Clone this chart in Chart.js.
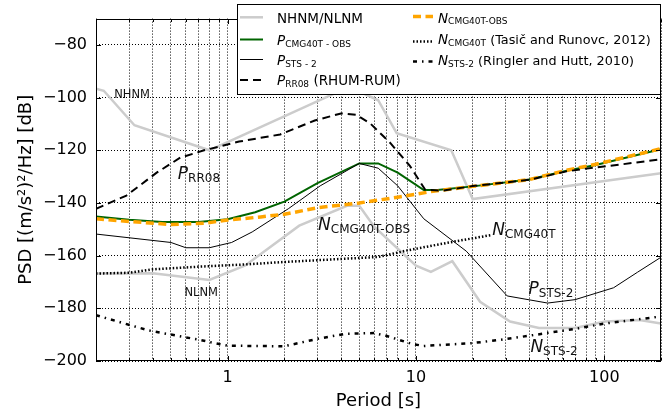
<!DOCTYPE html>
<html><head><meta charset="utf-8">
<script src="https://cdn.jsdelivr.net/npm/chart.js@4"></script>
<style>html,body{margin:0;padding:0;background:#fff;}#wrap{width:671px;height:418px;}</style>
</head><body><div id="wrap"><canvas id="c" width="671" height="418"></canvas></div>
<script>
// ---- data (period [s], PSD [dB]) ----
const periodsNHNM = [0.2, 0.22, 0.32, 0.8, 3.8, 4.6, 6.3, 7.9, 15.4, 20, 200];
const psdNHNM     = [-96.6, -97.4, -110.5, -120, -98, -96.5, -101, -113.5, -120, -138.5, -128.7];
const periodsNLNM = [0.2, 0.4, 0.8, 1.24, 2.4, 4.3, 5, 6, 10, 12, 15.6, 21.9, 31.6, 45, 70, 101, 154, 200];
const psdNLNM     = [-166.8, -166.7, -169.2, -163.7, -148.6, -141.1, -141.1, -149, -163.8, -166.2, -162.1, -177.5, -185, -187.5, -187.5, -185, -184.4, -185.8];
const periodsPCMGOBS = [0.2, 0.3, 0.45, 0.7, 1.0, 1.4, 2.0, 3.0, 5.0, 6.3, 8.0, 11, 13, 20, 40, 63, 90, 200];
const psdPCMGOBS     = [-145.1, -146.4, -147.2, -147.2, -146.2, -143.5, -139.5, -132.5, -125, -125, -128.5, -135.1, -135.1, -133.7, -131.1, -127.8, -125.6, -119.6];
const periodsPSTS2 = [0.2, 0.5, 0.6, 0.8, 1.05, 1.35, 2.1, 3.1, 5.0, 6.3, 8.0, 11, 18.5, 30.5, 50, 70, 112, 150, 200];
const psdPSTS2     = [-151.8, -155, -157, -157, -155, -151, -142.2, -133.5, -125, -126.8, -133.5, -146, -158.3, -175.3, -178, -176.7, -172.2, -166.3, -160.6];
const periodsPRR08 = [0.2, 0.29, 0.42, 0.56, 0.75, 1.15, 1.9, 2.9, 4.0, 4.8, 5.7, 7.3, 9.3, 11.2, 14, 20, 40, 63, 90, 125, 200];
const psdPRR08     = [-142.2, -137.2, -128.5, -122.8, -120, -116.7, -114, -108.7, -106, -106.5, -109.7, -117.2, -126, -135, -135.3, -133.6, -131.2, -128, -126.5, -125.3, -123.4];
const periodsNCMGOBS = [0.2, 0.3, 0.5, 0.75, 1.0, 1.5, 2.0, 3.0, 5.0, 8.0, 12, 20, 40, 63, 90, 200];
const psdNCMGOBS     = [-146, -147, -148.2, -147.7, -146.5, -145.3, -144.3, -141.8, -140, -137.8, -135.7, -133.7, -131.1, -127.6, -125.3, -119.4];
const periodsNCMG = [0.2, 0.3, 0.4, 0.7, 1.2, 2.0, 6.3, 9.0, 15, 25];
const psdNCMG     = [-166.8, -166.5, -165.2, -164.2, -163.4, -162.4, -160.5, -158, -155, -152.2];
const periodsNSTS2 = [0.2, 0.38, 0.7, 1.0, 2.0, 3.0, 4.2, 6.0, 7.0, 9.5, 11, 20, 27, 40, 70, 100, 200];
const psdNSTS2     = [-182.6, -188.4, -191.9, -194.2, -194.4, -191.6, -189.7, -189.4, -190.5, -193.5, -194.3, -193.2, -192.1, -190.4, -187.8, -185.8, -183.1];

const xTickValues = [0.2,0.3,0.4,0.5,0.6,0.7,0.8,0.9,1,2,3,4,5,6,7,8,9,10,20,30,40,50,60,70,80,90,100,200];
const xTickLabels = {1:'1', 10:'10', 100:'100'};
const yTickValues = [-200,-180,-160,-140,-120,-100,-80];

const pts = (xs, ys) => xs.map((x, i) => ({x, y: ys[i]}));
const FAM = "'DejaVu Sans', sans-serif";

function rich(ctx, x, y, parts) {
  let cx = x;
  ctx.textBaseline = 'alphabetic';
  ctx.textAlign = 'left';
  for (const p of parts) {
    ctx.font = p.f;
    ctx.fillText(p.t, cx, y + (p.dy || 0));
    cx += ctx.measureText(p.t).width;
  }
  return cx;
}
const IT = s => 'italic ' + s + 'px ' + FAM;
const RG = s => s + 'px ' + FAM;

const plotLabels = [
  {x: 0.25, y: -100.3, parts: [{t: 'NHNM', f: RG(11.5)}]},
  {x: 0.59, y: -175.3, parts: [{t: 'NLNM', f: RG(11.5)}]},
  {x: 0.544, y: -131, parts: [{t: 'P', f: IT(17)}, {t: 'RR08', f: RG(12), dy: 3}]},
  {x: 3.02, y: -150.3, parts: [{t: 'N', f: IT(17)}, {t: 'CMG40T-OBS', f: RG(12), dy: 3}]},
  {x: 25.4, y: -152.2, parts: [{t: 'N', f: IT(17)}, {t: 'CMG40T', f: RG(12), dy: 3}]},
  {x: 39.6, y: -174.7, parts: [{t: 'P', f: IT(17)}, {t: 'STS-2', f: RG(12), dy: 3}]},
  {x: 40.5, y: -196.5, parts: [{t: 'N', f: IT(17)}, {t: 'STS-2', f: RG(12), dy: 3}]}
];

const decor = {
  id: 'decor',
  afterDatasetsDraw(chart) {
    const {ctx, chartArea: a, scales: {x, y}} = chart;
    ctx.save();
    ctx.fillStyle = '#111';
    for (const L of plotLabels) {
      rich(ctx, x.getPixelForValue(L.x), y.getPixelForValue(L.y), L.parts);
    }
    ctx.strokeStyle = '#000';
    ctx.lineWidth = 1;
    ctx.setLineDash([]);
    const l = Math.round(a.left) + 0.5, r = Math.round(a.right) - 0.5;
    const t = Math.round(a.top) + 0.5, b = Math.round(a.bottom) - 0.5;
    ctx.strokeRect(l, t, r - l, b - t);
    ctx.beginPath();
    for (const v of xTickValues) {
      const px = Math.round(x.getPixelForValue(v)) + 0.5;
      const len = xTickLabels[v] ? 4.5 : 2.5;
      ctx.moveTo(px, b); ctx.lineTo(px, b - len);
      ctx.moveTo(px, t); ctx.lineTo(px, t + len);
    }
    for (const v of yTickValues) {
      const py = Math.round(y.getPixelForValue(v)) + 0.5;
      ctx.moveTo(l, py); ctx.lineTo(l + 4.5, py);
      ctx.moveTo(r, py); ctx.lineTo(r - 4.5, py);
    }
    ctx.stroke();
    ctx.restore();
  },
  afterDraw(chart) {
    const ctx = chart.ctx;
    ctx.save();
    // legend box
    ctx.fillStyle = '#fff';
    ctx.fillRect(237, 4, 424, 90);
    ctx.strokeStyle = '#000';
    ctx.lineWidth = 1;
    ctx.setLineDash([]);
    ctx.strokeRect(237.5, 4.5, 423, 90);
    const seg = (x1, x2, yy, color, w, dash) => {
      ctx.beginPath();
      ctx.strokeStyle = color; ctx.lineWidth = w; ctx.setLineDash(dash);
      ctx.moveTo(x1, yy); ctx.lineTo(x2, yy); ctx.stroke();
    };
    seg(240, 263, 17.3, '#cccccc', 2.5, []);
    seg(240, 263, 39.5, '#006400', 2, []);
    seg(240, 263, 59.5, '#000', 1, []);
    seg(240, 263, 80, '#000', 2, [8, 5]);
    seg(413, 433, 16.5, '#ffa500', 3.5, [8, 4.5]);
    seg(413, 433, 41.5, '#000', 2.5, [1.5, 2]);
    seg(413, 433, 61.5, '#000', 2.5, [4, 5, 1.5, 5]);
    ctx.setLineDash([]);
    ctx.fillStyle = '#000';
    const fs = 13.5, fs2 = 12.8, ss = 9;
    rich(ctx, 277, 22.7, [{t: 'NHNM/NLNM', f: RG(fs)}]);
    rich(ctx, 277, 45, [{t: 'P', f: IT(fs)}, {t: 'CMG40T - OBS', f: RG(ss), dy: 1.5}]);
    rich(ctx, 277, 65, [{t: 'P', f: IT(fs)}, {t: 'STS - 2', f: RG(ss), dy: 1.5}]);
    rich(ctx, 277, 85, [{t: 'P', f: IT(fs)}, {t: 'RR08', f: RG(ss), dy: 1.5}, {t: ' (RHUM-RUM)', f: RG(fs)}]);
    rich(ctx, 438, 22.7, [{t: 'N', f: IT(fs)}, {t: 'CMG40T-OBS', f: RG(ss), dy: 1.5}]);
    rich(ctx, 438, 44.3, [{t: 'N', f: IT(fs)}, {t: 'CMG40T', f: RG(ss), dy: 1.5}, {t: ' (Tasič and Runovc, 2012)', f: RG(fs2)}]);
    rich(ctx, 438, 65, [{t: 'N', f: IT(fs)}, {t: 'STS-2', f: RG(ss), dy: 1.5}, {t: ' (Ringler and Hutt, 2010)', f: RG(fs2)}]);
    ctx.restore();
  }
};

const ds = (label, xs, ys, color, width, dash, order) => ({
  label, data: pts(xs, ys), borderColor: color, backgroundColor: color,
  borderWidth: width, borderDash: dash, pointRadius: 0, tension: 0, fill: false, order
});

new Chart(document.getElementById('c'), {
  type: 'line',
  data: {
    datasets: [
      ds('NHNM', periodsNHNM, psdNHNM, '#cccccc', 2.5, [], 10),
      ds('NLNM', periodsNLNM, psdNLNM, '#cccccc', 2.5, [], 10),
      ds('P CMG40T-OBS', periodsPCMGOBS, psdPCMGOBS, '#006400', 2, [], 8),
      ds('P STS-2', periodsPSTS2, psdPSTS2, '#000000', 1, [], 7),
      ds('N CMG40T-OBS', periodsNCMGOBS, psdNCMGOBS, '#ffa500', 3.5, [8, 4.5], 6),
      ds('P RR08 (RHUM-RUM)', periodsPRR08, psdPRR08, '#000000', 2, [8, 5], 5),
      ds('N CMG40T (Tasič and Runovc, 2012)', periodsNCMG, psdNCMG, '#000000', 2.5, [1.5, 2], 4),
      ds('N STS-2 (Ringler and Hutt, 2010)', periodsNSTS2, psdNSTS2, '#000000', 2.5, [4, 5, 1.5, 5], 3)
    ]
  },
  options: {
    responsive: false, animation: false, devicePixelRatio: 1,
    layout: {padding: {top: 14, right: 10, left: 0, bottom: 0}},
    plugins: {legend: {display: false}, tooltip: {enabled: false}},
    scales: {
      x: {
        type: 'logarithmic', min: 0.2, max: 200,
        afterBuildTicks: s => { s.ticks = xTickValues.map(v => ({value: v})); },
        afterFit: s => { s.height = 57; },
        ticks: {autoSkip: false, maxRotation: 0, minRotation: 0, padding: 7, color: '#000',
          font: {family: FAM, size: 16}, callback: v => xTickLabels[v] || ''},
        grid: {color: '#000', lineWidth: 1, drawTicks: false},
        border: {display: false, dash: [1, 2]},
        title: {display: true, text: 'Period [s]', color: '#000', font: {family: FAM, size: 18}, padding: {top: 0, bottom: 5.5}}
      },
      y: {
        type: 'linear', min: -200, max: -70,
        afterBuildTicks: s => { s.ticks = yTickValues.map(v => ({value: v})); },
        afterFit: s => { s.width = 96; },
        ticks: {padding: 9, color: '#000', font: {family: FAM, size: 16},
          callback: v => (v < 0 ? '\u2212' : '') + Math.abs(v)},
        grid: {color: '#000', lineWidth: 1, drawTicks: false},
        border: {display: false, dash: [1, 2]},
        title: {display: true, text: 'PSD [(m/s²)²/Hz] [dB]', color: '#000', font: {family: FAM, size: 18}, padding: {top: 16, bottom: 0}}
      }
    }
  },
  plugins: [decor]
});
</script></body></html>
